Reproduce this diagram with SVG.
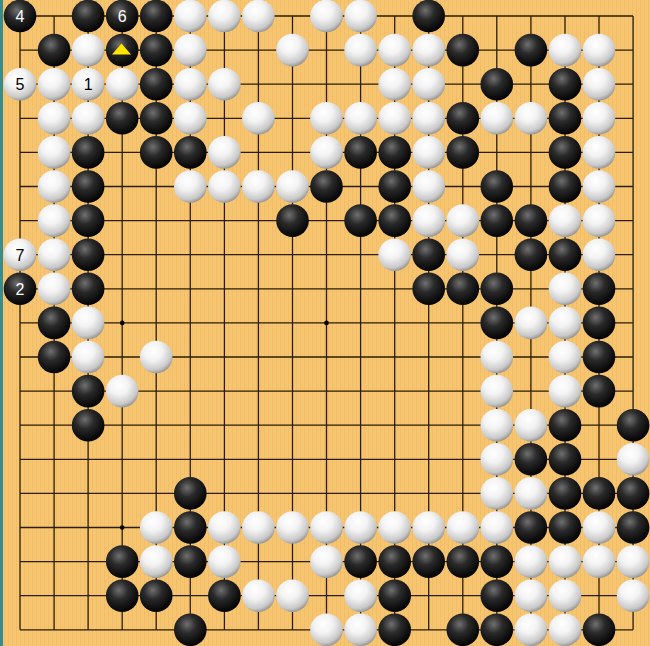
<svg xmlns="http://www.w3.org/2000/svg" xmlns:xlink="http://www.w3.org/1999/xlink" width="650" height="646" viewBox="0 0 650 646">
<defs>
<pattern id="wood" width="4" height="10" patternUnits="userSpaceOnUse">
<rect width="4" height="10" fill="#F7C570"/>
<rect x="0" width="1" height="10" fill="#F0BD68"/>
</pattern>
<radialGradient id="gb" cx="0.4" cy="0.33" r="0.7">
<stop offset="0" stop-color="#707070"/>
<stop offset="0.4" stop-color="#2a2a2a"/>
<stop offset="1" stop-color="#000"/>
</radialGradient>
<radialGradient id="gw" cx="0.4" cy="0.32" r="0.72">
<stop offset="0" stop-color="#ffffff"/>
<stop offset="0.4" stop-color="#f3f3f3"/>
<stop offset="0.8" stop-color="#c9c9c9"/>
<stop offset="1" stop-color="#8c8c8c"/>
</radialGradient>
</defs>
<style>
.b{fill:url(#gb)}
.w{fill:url(#gw)}
.grid{stroke:#2b1d08;stroke-width:1.3;fill:none}
.lb{font-family:"Liberation Sans",Arial,sans-serif;font-size:16px;text-anchor:middle;fill:#fff}
.lw{font-family:"Liberation Sans",Arial,sans-serif;font-size:16px;text-anchor:middle;fill:#000}
</style>
<rect width="650" height="646" fill="url(#wood)"/>
<rect width="3" height="646" fill="#3A8C8A"/>
<g id="grid">
<path class="grid" d="M20 16V629.8M54.1 16V629.8M88.1 16V629.8M122.2 16V629.8M156.2 16V629.8M190.3 16V629.8M224.4 16V629.8M258.4 16V629.8M292.5 16V629.8M326.5 16V629.8M360.6 16V629.8M394.7 16V629.8M428.7 16V629.8M462.8 16V629.8M496.8 16V629.8M530.9 16V629.8M565 16V629.8M599 16V629.8M633.1 16V629.8M20 16H633.1M20 50.1H633.1M20 84.2H633.1M20 118.3H633.1M20 152.4H633.1M20 186.5H633.1M20 220.6H633.1M20 254.7H633.1M20 288.8H633.1M20 322.9H633.1M20 357H633.1M20 391.1H633.1M20 425.2H633.1M20 459.3H633.1M20 493.4H633.1M20 527.5H633.1M20 561.6H633.1M20 595.7H633.1M20 629.8H633.1"/>
<circle cx="122.2" cy="322.9" r="2.3" fill="#000"/>
<circle cx="326.5" cy="322.9" r="2.3" fill="#000"/>
<circle cx="122.2" cy="527.5" r="2.3" fill="#000"/>
</g>
<g id="stones">
<!-- row 0 -->
<circle class="b" cx="20" cy="16" r="16.3"/>
<circle class="b" cx="88.1" cy="16" r="16.3"/>
<circle class="b" cx="122.2" cy="16" r="16.3"/>
<circle class="b" cx="156.2" cy="16" r="16.3"/>
<circle class="w" cx="190.3" cy="16" r="16.3"/>
<circle class="w" cx="224.4" cy="16" r="16.3"/>
<circle class="w" cx="258.4" cy="16" r="16.3"/>
<circle class="w" cx="326.5" cy="16" r="16.3"/>
<circle class="w" cx="360.6" cy="16" r="16.3"/>
<circle class="b" cx="428.7" cy="16" r="16.3"/>
<!-- row 1 -->
<circle class="b" cx="54.1" cy="50.1" r="16.3"/>
<circle class="w" cx="88.1" cy="50.1" r="16.3"/>
<circle class="b" cx="122.2" cy="50.1" r="16.3"/>
<circle class="b" cx="156.2" cy="50.1" r="16.3"/>
<circle class="w" cx="190.3" cy="50.1" r="16.3"/>
<circle class="w" cx="292.5" cy="50.1" r="16.3"/>
<circle class="w" cx="360.6" cy="50.1" r="16.3"/>
<circle class="w" cx="394.7" cy="50.1" r="16.3"/>
<circle class="w" cx="428.7" cy="50.1" r="16.3"/>
<circle class="b" cx="462.8" cy="50.1" r="16.3"/>
<circle class="b" cx="530.9" cy="50.1" r="16.3"/>
<circle class="w" cx="565" cy="50.1" r="16.3"/>
<circle class="w" cx="599" cy="50.1" r="16.3"/>
<!-- row 2 -->
<circle class="w" cx="20" cy="84.2" r="16.3"/>
<circle class="w" cx="54.1" cy="84.2" r="16.3"/>
<circle class="w" cx="88.1" cy="84.2" r="16.3"/>
<circle class="w" cx="122.2" cy="84.2" r="16.3"/>
<circle class="b" cx="156.2" cy="84.2" r="16.3"/>
<circle class="w" cx="190.3" cy="84.2" r="16.3"/>
<circle class="w" cx="224.4" cy="84.2" r="16.3"/>
<circle class="w" cx="394.7" cy="84.2" r="16.3"/>
<circle class="w" cx="428.7" cy="84.2" r="16.3"/>
<circle class="b" cx="496.8" cy="84.2" r="16.3"/>
<circle class="b" cx="565" cy="84.2" r="16.3"/>
<circle class="w" cx="599" cy="84.2" r="16.3"/>
<!-- row 3 -->
<circle class="w" cx="54.1" cy="118.3" r="16.3"/>
<circle class="w" cx="88.1" cy="118.3" r="16.3"/>
<circle class="b" cx="122.2" cy="118.3" r="16.3"/>
<circle class="b" cx="156.2" cy="118.3" r="16.3"/>
<circle class="w" cx="190.3" cy="118.3" r="16.3"/>
<circle class="w" cx="258.4" cy="118.3" r="16.3"/>
<circle class="w" cx="326.5" cy="118.3" r="16.3"/>
<circle class="w" cx="360.6" cy="118.3" r="16.3"/>
<circle class="w" cx="394.7" cy="118.3" r="16.3"/>
<circle class="w" cx="428.7" cy="118.3" r="16.3"/>
<circle class="b" cx="462.8" cy="118.3" r="16.3"/>
<circle class="w" cx="496.8" cy="118.3" r="16.3"/>
<circle class="w" cx="530.9" cy="118.3" r="16.3"/>
<circle class="b" cx="565" cy="118.3" r="16.3"/>
<circle class="w" cx="599" cy="118.3" r="16.3"/>
<!-- row 4 -->
<circle class="w" cx="54.1" cy="152.4" r="16.3"/>
<circle class="b" cx="88.1" cy="152.4" r="16.3"/>
<circle class="b" cx="156.2" cy="152.4" r="16.3"/>
<circle class="b" cx="190.3" cy="152.4" r="16.3"/>
<circle class="w" cx="224.4" cy="152.4" r="16.3"/>
<circle class="w" cx="326.5" cy="152.4" r="16.3"/>
<circle class="b" cx="360.6" cy="152.4" r="16.3"/>
<circle class="b" cx="394.7" cy="152.4" r="16.3"/>
<circle class="w" cx="428.7" cy="152.4" r="16.3"/>
<circle class="b" cx="462.8" cy="152.4" r="16.3"/>
<circle class="b" cx="565" cy="152.4" r="16.3"/>
<circle class="w" cx="599" cy="152.4" r="16.3"/>
<!-- row 5 -->
<circle class="w" cx="54.1" cy="186.5" r="16.3"/>
<circle class="b" cx="88.1" cy="186.5" r="16.3"/>
<circle class="w" cx="190.3" cy="186.5" r="16.3"/>
<circle class="w" cx="224.4" cy="186.5" r="16.3"/>
<circle class="w" cx="258.4" cy="186.5" r="16.3"/>
<circle class="w" cx="292.5" cy="186.5" r="16.3"/>
<circle class="b" cx="326.5" cy="186.5" r="16.3"/>
<circle class="b" cx="394.7" cy="186.5" r="16.3"/>
<circle class="w" cx="428.7" cy="186.5" r="16.3"/>
<circle class="b" cx="496.8" cy="186.5" r="16.3"/>
<circle class="b" cx="565" cy="186.5" r="16.3"/>
<circle class="w" cx="599" cy="186.5" r="16.3"/>
<!-- row 6 -->
<circle class="w" cx="54.1" cy="220.6" r="16.3"/>
<circle class="b" cx="88.1" cy="220.6" r="16.3"/>
<circle class="b" cx="292.5" cy="220.6" r="16.3"/>
<circle class="b" cx="360.6" cy="220.6" r="16.3"/>
<circle class="b" cx="394.7" cy="220.6" r="16.3"/>
<circle class="w" cx="428.7" cy="220.6" r="16.3"/>
<circle class="w" cx="462.8" cy="220.6" r="16.3"/>
<circle class="b" cx="496.8" cy="220.6" r="16.3"/>
<circle class="b" cx="530.9" cy="220.6" r="16.3"/>
<circle class="w" cx="565" cy="220.6" r="16.3"/>
<circle class="w" cx="599" cy="220.6" r="16.3"/>
<!-- row 7 -->
<circle class="w" cx="20" cy="254.7" r="16.3"/>
<circle class="w" cx="54.1" cy="254.7" r="16.3"/>
<circle class="b" cx="88.1" cy="254.7" r="16.3"/>
<circle class="w" cx="394.7" cy="254.7" r="16.3"/>
<circle class="b" cx="428.7" cy="254.7" r="16.3"/>
<circle class="w" cx="462.8" cy="254.7" r="16.3"/>
<circle class="b" cx="530.9" cy="254.7" r="16.3"/>
<circle class="b" cx="565" cy="254.7" r="16.3"/>
<circle class="w" cx="599" cy="254.7" r="16.3"/>
<!-- row 8 -->
<circle class="b" cx="20" cy="288.8" r="16.3"/>
<circle class="w" cx="54.1" cy="288.8" r="16.3"/>
<circle class="b" cx="88.1" cy="288.8" r="16.3"/>
<circle class="b" cx="428.7" cy="288.8" r="16.3"/>
<circle class="b" cx="462.8" cy="288.8" r="16.3"/>
<circle class="b" cx="496.8" cy="288.8" r="16.3"/>
<circle class="w" cx="565" cy="288.8" r="16.3"/>
<circle class="b" cx="599" cy="288.8" r="16.3"/>
<!-- row 9 -->
<circle class="b" cx="54.1" cy="322.9" r="16.3"/>
<circle class="w" cx="88.1" cy="322.9" r="16.3"/>
<circle class="b" cx="496.8" cy="322.9" r="16.3"/>
<circle class="w" cx="530.9" cy="322.9" r="16.3"/>
<circle class="w" cx="565" cy="322.9" r="16.3"/>
<circle class="b" cx="599" cy="322.9" r="16.3"/>
<!-- row 10 -->
<circle class="b" cx="54.1" cy="357" r="16.3"/>
<circle class="w" cx="88.1" cy="357" r="16.3"/>
<circle class="w" cx="156.2" cy="357" r="16.3"/>
<circle class="w" cx="496.8" cy="357" r="16.3"/>
<circle class="w" cx="565" cy="357" r="16.3"/>
<circle class="b" cx="599" cy="357" r="16.3"/>
<!-- row 11 -->
<circle class="b" cx="88.1" cy="391.1" r="16.3"/>
<circle class="w" cx="122.2" cy="391.1" r="16.3"/>
<circle class="w" cx="496.8" cy="391.1" r="16.3"/>
<circle class="w" cx="565" cy="391.1" r="16.3"/>
<circle class="b" cx="599" cy="391.1" r="16.3"/>
<!-- row 12 -->
<circle class="b" cx="88.1" cy="425.2" r="16.3"/>
<circle class="w" cx="496.8" cy="425.2" r="16.3"/>
<circle class="w" cx="530.9" cy="425.2" r="16.3"/>
<circle class="b" cx="565" cy="425.2" r="16.3"/>
<circle class="b" cx="633.1" cy="425.2" r="16.3"/>
<!-- row 13 -->
<circle class="w" cx="496.8" cy="459.3" r="16.3"/>
<circle class="b" cx="530.9" cy="459.3" r="16.3"/>
<circle class="b" cx="565" cy="459.3" r="16.3"/>
<circle class="w" cx="633.1" cy="459.3" r="16.3"/>
<!-- row 14 -->
<circle class="b" cx="190.3" cy="493.4" r="16.3"/>
<circle class="w" cx="496.8" cy="493.4" r="16.3"/>
<circle class="w" cx="530.9" cy="493.4" r="16.3"/>
<circle class="b" cx="565" cy="493.4" r="16.3"/>
<circle class="b" cx="599" cy="493.4" r="16.3"/>
<circle class="b" cx="633.1" cy="493.4" r="16.3"/>
<!-- row 15 -->
<circle class="w" cx="156.2" cy="527.5" r="16.3"/>
<circle class="b" cx="190.3" cy="527.5" r="16.3"/>
<circle class="w" cx="224.4" cy="527.5" r="16.3"/>
<circle class="w" cx="258.4" cy="527.5" r="16.3"/>
<circle class="w" cx="292.5" cy="527.5" r="16.3"/>
<circle class="w" cx="326.5" cy="527.5" r="16.3"/>
<circle class="w" cx="360.6" cy="527.5" r="16.3"/>
<circle class="w" cx="394.7" cy="527.5" r="16.3"/>
<circle class="w" cx="428.7" cy="527.5" r="16.3"/>
<circle class="w" cx="462.8" cy="527.5" r="16.3"/>
<circle class="w" cx="496.8" cy="527.5" r="16.3"/>
<circle class="b" cx="530.9" cy="527.5" r="16.3"/>
<circle class="b" cx="565" cy="527.5" r="16.3"/>
<circle class="w" cx="599" cy="527.5" r="16.3"/>
<circle class="b" cx="633.1" cy="527.5" r="16.3"/>
<!-- row 16 -->
<circle class="b" cx="122.2" cy="561.6" r="16.3"/>
<circle class="w" cx="156.2" cy="561.6" r="16.3"/>
<circle class="b" cx="190.3" cy="561.6" r="16.3"/>
<circle class="w" cx="224.4" cy="561.6" r="16.3"/>
<circle class="w" cx="326.5" cy="561.6" r="16.3"/>
<circle class="b" cx="360.6" cy="561.6" r="16.3"/>
<circle class="b" cx="394.7" cy="561.6" r="16.3"/>
<circle class="b" cx="428.7" cy="561.6" r="16.3"/>
<circle class="b" cx="462.8" cy="561.6" r="16.3"/>
<circle class="b" cx="496.8" cy="561.6" r="16.3"/>
<circle class="w" cx="530.9" cy="561.6" r="16.3"/>
<circle class="w" cx="565" cy="561.6" r="16.3"/>
<circle class="w" cx="599" cy="561.6" r="16.3"/>
<circle class="w" cx="633.1" cy="561.6" r="16.3"/>
<!-- row 17 -->
<circle class="b" cx="122.2" cy="595.7" r="16.3"/>
<circle class="b" cx="156.2" cy="595.7" r="16.3"/>
<circle class="b" cx="224.4" cy="595.7" r="16.3"/>
<circle class="w" cx="258.4" cy="595.7" r="16.3"/>
<circle class="w" cx="292.5" cy="595.7" r="16.3"/>
<circle class="w" cx="360.6" cy="595.7" r="16.3"/>
<circle class="b" cx="394.7" cy="595.7" r="16.3"/>
<circle class="b" cx="496.8" cy="595.7" r="16.3"/>
<circle class="w" cx="530.9" cy="595.7" r="16.3"/>
<circle class="w" cx="565" cy="595.7" r="16.3"/>
<circle class="w" cx="633.1" cy="595.7" r="16.3"/>
<!-- row 18 -->
<circle class="b" cx="190.3" cy="629.8" r="16.3"/>
<circle class="w" cx="326.5" cy="629.8" r="16.3"/>
<circle class="w" cx="360.6" cy="629.8" r="16.3"/>
<circle class="b" cx="394.7" cy="629.8" r="16.3"/>
<circle class="b" cx="462.8" cy="629.8" r="16.3"/>
<circle class="b" cx="496.8" cy="629.8" r="16.3"/>
<circle class="w" cx="530.9" cy="629.8" r="16.3"/>
<circle class="w" cx="565" cy="629.8" r="16.3"/>
<circle class="b" cx="599" cy="629.8" r="16.3"/>
</g>
<g id="labels">
<text class="lb" x="20" y="21.8">4</text>
<text class="lb" x="122.2" y="21.8">6</text>
<text class="lw" x="20" y="90">5</text>
<text class="lw" x="88.1" y="90">1</text>
<text class="lw" x="20" y="260.5">7</text>
<text class="lb" x="20" y="294.6">2</text>
<polygon points="121.5,43.5 112,54.5 131,54.5" fill="#FFE600"/>
</g>
</svg>
